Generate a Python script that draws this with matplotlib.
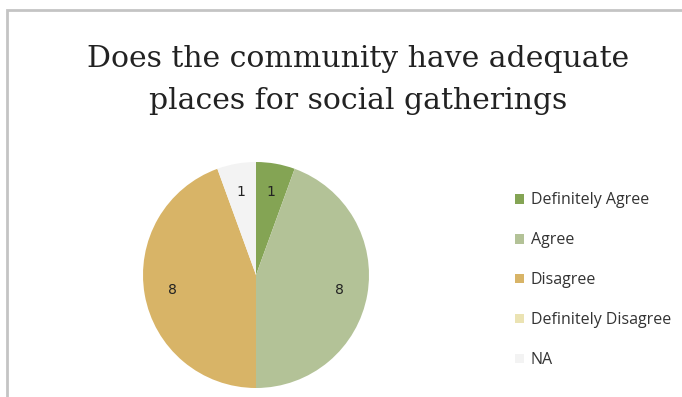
import matplotlib.pyplot as plt
from matplotlib.patches import Rectangle

categories = ["Definitely Agree", "Agree", "Disagree", "Definitely Disagree", "NA"]
counts = [1, 8, 8, 0, 1]
colors = ["#84a454", "#b3c297", "#d8b467", "#ebe3b3", "#f3f3f3"]
title = "Does the community have adequate\nplaces for social gatherings"

total = sum(counts)

fig = plt.figure(figsize=(6.82, 3.97), dpi=100)
fig.patch.set_facecolor("white")

# chart frame (cropped at right/bottom like the screenshot)
fig.patches.append(Rectangle((7 / 682, -0.1), 1.2, (397 - 10) / 397 + 0.1,
                             transform=fig.transFigure, fill=False,
                             edgecolor="#c4c4c4", linewidth=2.0))

fig.text(358 / 682, 1 - 80 / 397, title, ha="center", va="center",
         fontsize=21.5, family="DejaVu Serif",
         color="#222222", linespacing=1.6)

ax = fig.add_axes([143 / 682, 9 / 397, 226 / 682, 226 / 397])
wedges, texts, autotexts = ax.pie(
    counts, colors=colors, startangle=90, counterclock=False,
    autopct=lambda p: f"{round(p * total / 100)}" if p > 0 else "",
    pctdistance=0.75, wedgeprops=dict(linewidth=0),
    textprops=dict(fontsize=10, family="DejaVu Sans", color="#222222"))
ax.set_xlim(-1, 1)
ax.set_ylim(-1, 1)
ax.set_aspect("equal")

leg = fig.legend(wedges, categories, loc="upper left",
                 bbox_to_anchor=(509 / 682, 1 - 186 / 397), frameon=False,
                 prop=dict(family="Open Sans", size=11.5), labelspacing=1.5,
                 handlelength=0.55, handleheight=0.55, handletextpad=0.4,
                 borderaxespad=0)
for t in leg.get_texts():
    t.set_color("#333333")

fig.savefig("out.png", dpi=100)
